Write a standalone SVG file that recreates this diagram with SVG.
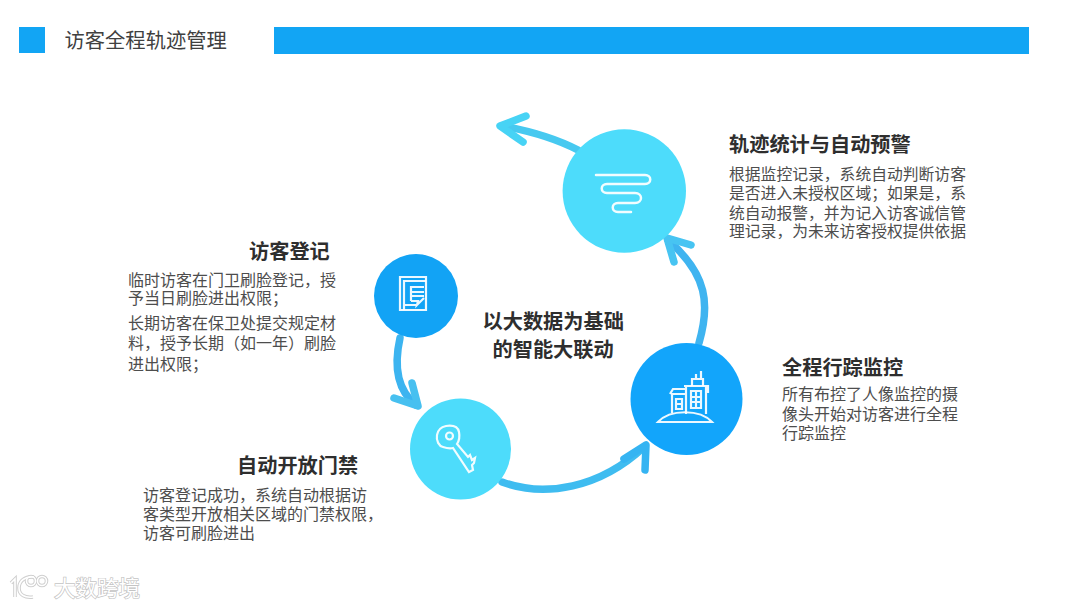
<svg xmlns="http://www.w3.org/2000/svg" width="1080" height="608" viewBox="0 0 1080 608">
<style>
text{font-family:"Liberation Sans","Noto Sans CJK SC",sans-serif}
.h{font-size:20.2px;font-weight:700;fill:#2e2e2e}
.b{font-size:16px;fill:#4d4d4d}
.b2{font-size:15.8px;fill:#4d4d4d}
.t{font-size:20.3px;fill:#404040}
.c{fill:none;stroke-linecap:round;stroke-linejoin:round;stroke-width:7.500}
.i{fill:none;stroke:#fff;stroke-width:2.200;stroke-linejoin:miter;opacity:.92}
.w{font-size:21.5px;fill:#fff;stroke:#c4c4c4;stroke-width:1.4;paint-order:stroke}
.wl{fill:none;stroke:#cfcfcf;stroke-width:3.600}
.wf{fill:none;stroke:#fff;stroke-width:1.600}
</style>
<defs>
<g id="logo-shape">
<path d="M11 583L15 579V597M34 577C25 576 19 581 19 588C19 595 25 598 33 597"/>
<circle cx="31" cy="581" r="4.500"/>
<circle cx="42" cy="581" r="4.500"/>
</g>
</defs>
<rect width="1080" height="608" fill="#fff"/>
<g id="header">
<rect x="19" y="27" width="26" height="26" fill="#12a5f4"/>
<text class="t" x="64.500" y="48">访客全程轨迹管理</text>
<rect x="274" y="27" width="755" height="27" fill="#12a5f4"/>
</g>
<g id="connectors">
<path class="c" stroke="#47c9f0" d="M578 150C555 138 530 131 503 126"/>
<path class="c" stroke="#47d3f5" d="M526 116L500 126L523 142"/>
<path class="c" stroke="#3fb4f0" d="M699 343C710 305 708 275 668 240"/>
<path class="c" stroke="#47c4f2" d="M691 245L667 238L674 262"/>
<path class="c" stroke="#3cb4f0" d="M400 338C394 365 397 390 416 405"/>
<path class="c" stroke="#47c0f0" d="M412 383L418 406L394 398"/>
<path class="c" stroke="#3fbcf0" d="M502 482C545 498 600 488 644 447"/>
<path class="c" stroke="#35b4f2" d="M624 459L646 445L645 470"/>
</g>
<g id="node-register">
<circle cx="416" cy="296" r="42" fill="#12a3f5"/>
<path class="i" d="M400 277H426V310H400Z"/>
<path class="i" d="M404 310V281H426M404 305H416M411 301V287H424M411 292H424M411 296H424M411 301H418L417 305L424 298"/>
</g>
<g id="node-gate">
<circle cx="460.500" cy="449" r="50.500" fill="#4ddcfb"/>
<path class="i" d="M437 435C438 429 441 427 446 426C453 425 458 427 459 432C460 437 459 441 457 444L468 457L470 455L472 460L475 458L474 463L472 465L473 470L469 472L453 448C449 449 446 448 443 447C439 446 436 441 437 435Z"/>
<circle class="i" cx="449.500" cy="436" r="3.500"/>
</g>
<g id="node-track">
<circle cx="686.500" cy="399" r="56" fill="#12a5fb"/>
<path class="i" d="M658 422H712C700 409 670 409 658 422Z"/>
<path class="i" d="M672 413V394H686M670 394L673 389H686M676 399H682V409H676ZM676 404H682M686 414V386H706V414M684 386H708V392H706M691 391H701V408H691ZM696 391V408M691 397H701M691 402H701"/>
<path class="i" d="M692 386V379H703V386M696 379V374M701 379V371"/>
</g>
<g id="node-stats">
<circle cx="624.300" cy="191" r="61.700" fill="#4ddcfb"/>
<path d="M596 175H645C652 175 652 184 645 184H607C600 184 600 193 607 193H635C643 193 643 203 635 203H618C611 203 611 212 618 212H631" fill="none" stroke="#fff" stroke-width="2.500" stroke-linecap="round" opacity=".92"/>
</g>
<g id="center-label">
<text class="h" x="482.500" y="329">以大数据为基础</text>
<text class="h" x="492.500" y="357">的智能大联动</text>
</g>
<g id="label-stats">
<text class="h" x="729" y="152">轨迹统计与自动预警</text>
<text class="b2"><tspan x="729" y="180">根据监控记录，系统自动判断访客</tspan><tspan x="729" y="199">是否进入未授权区域；如果是，系</tspan><tspan x="729" y="219">统自动报警，并为记入访客诚信管</tspan><tspan x="729" y="237">理记录，为未来访客授权提供依据</tspan></text>
</g>
<g id="label-register">
<text class="h" x="249" y="259">访客登记</text>
<text class="b"><tspan x="128" y="286">临时访客在门卫刷脸登记，授</tspan><tspan x="128" y="304">予当日刷脸进出权限；</tspan><tspan x="128" y="329">长期访客在保卫处提交规定材</tspan><tspan x="128" y="349">料，授予长期（如一年）刷脸</tspan><tspan x="128" y="370">进出权限；</tspan></text>
</g>
<g id="label-track">
<text class="h" x="782" y="375">全程行踪监控</text>
<text class="b"><tspan x="782" y="400">所有布控了人像监控的摄</tspan><tspan x="782" y="420">像头开始对访客进行全程</tspan><tspan x="782" y="439">行踪监控</tspan></text>
</g>
<g id="label-gate">
<text class="h" x="237" y="473">自动开放门禁</text>
<text class="b"><tspan x="143" y="501">访客登记成功，系统自动根据访</tspan><tspan x="143" y="520">客类型开放相关区域的门禁权限，</tspan><tspan x="143" y="539">访客可刷脸进出</tspan></text>
</g>
<g id="watermark">
<use href="#logo-shape" class="wl"/>
<use href="#logo-shape" class="wf"/>
<text class="w" x="54" y="596">大数跨境</text>
</g>
</svg>
